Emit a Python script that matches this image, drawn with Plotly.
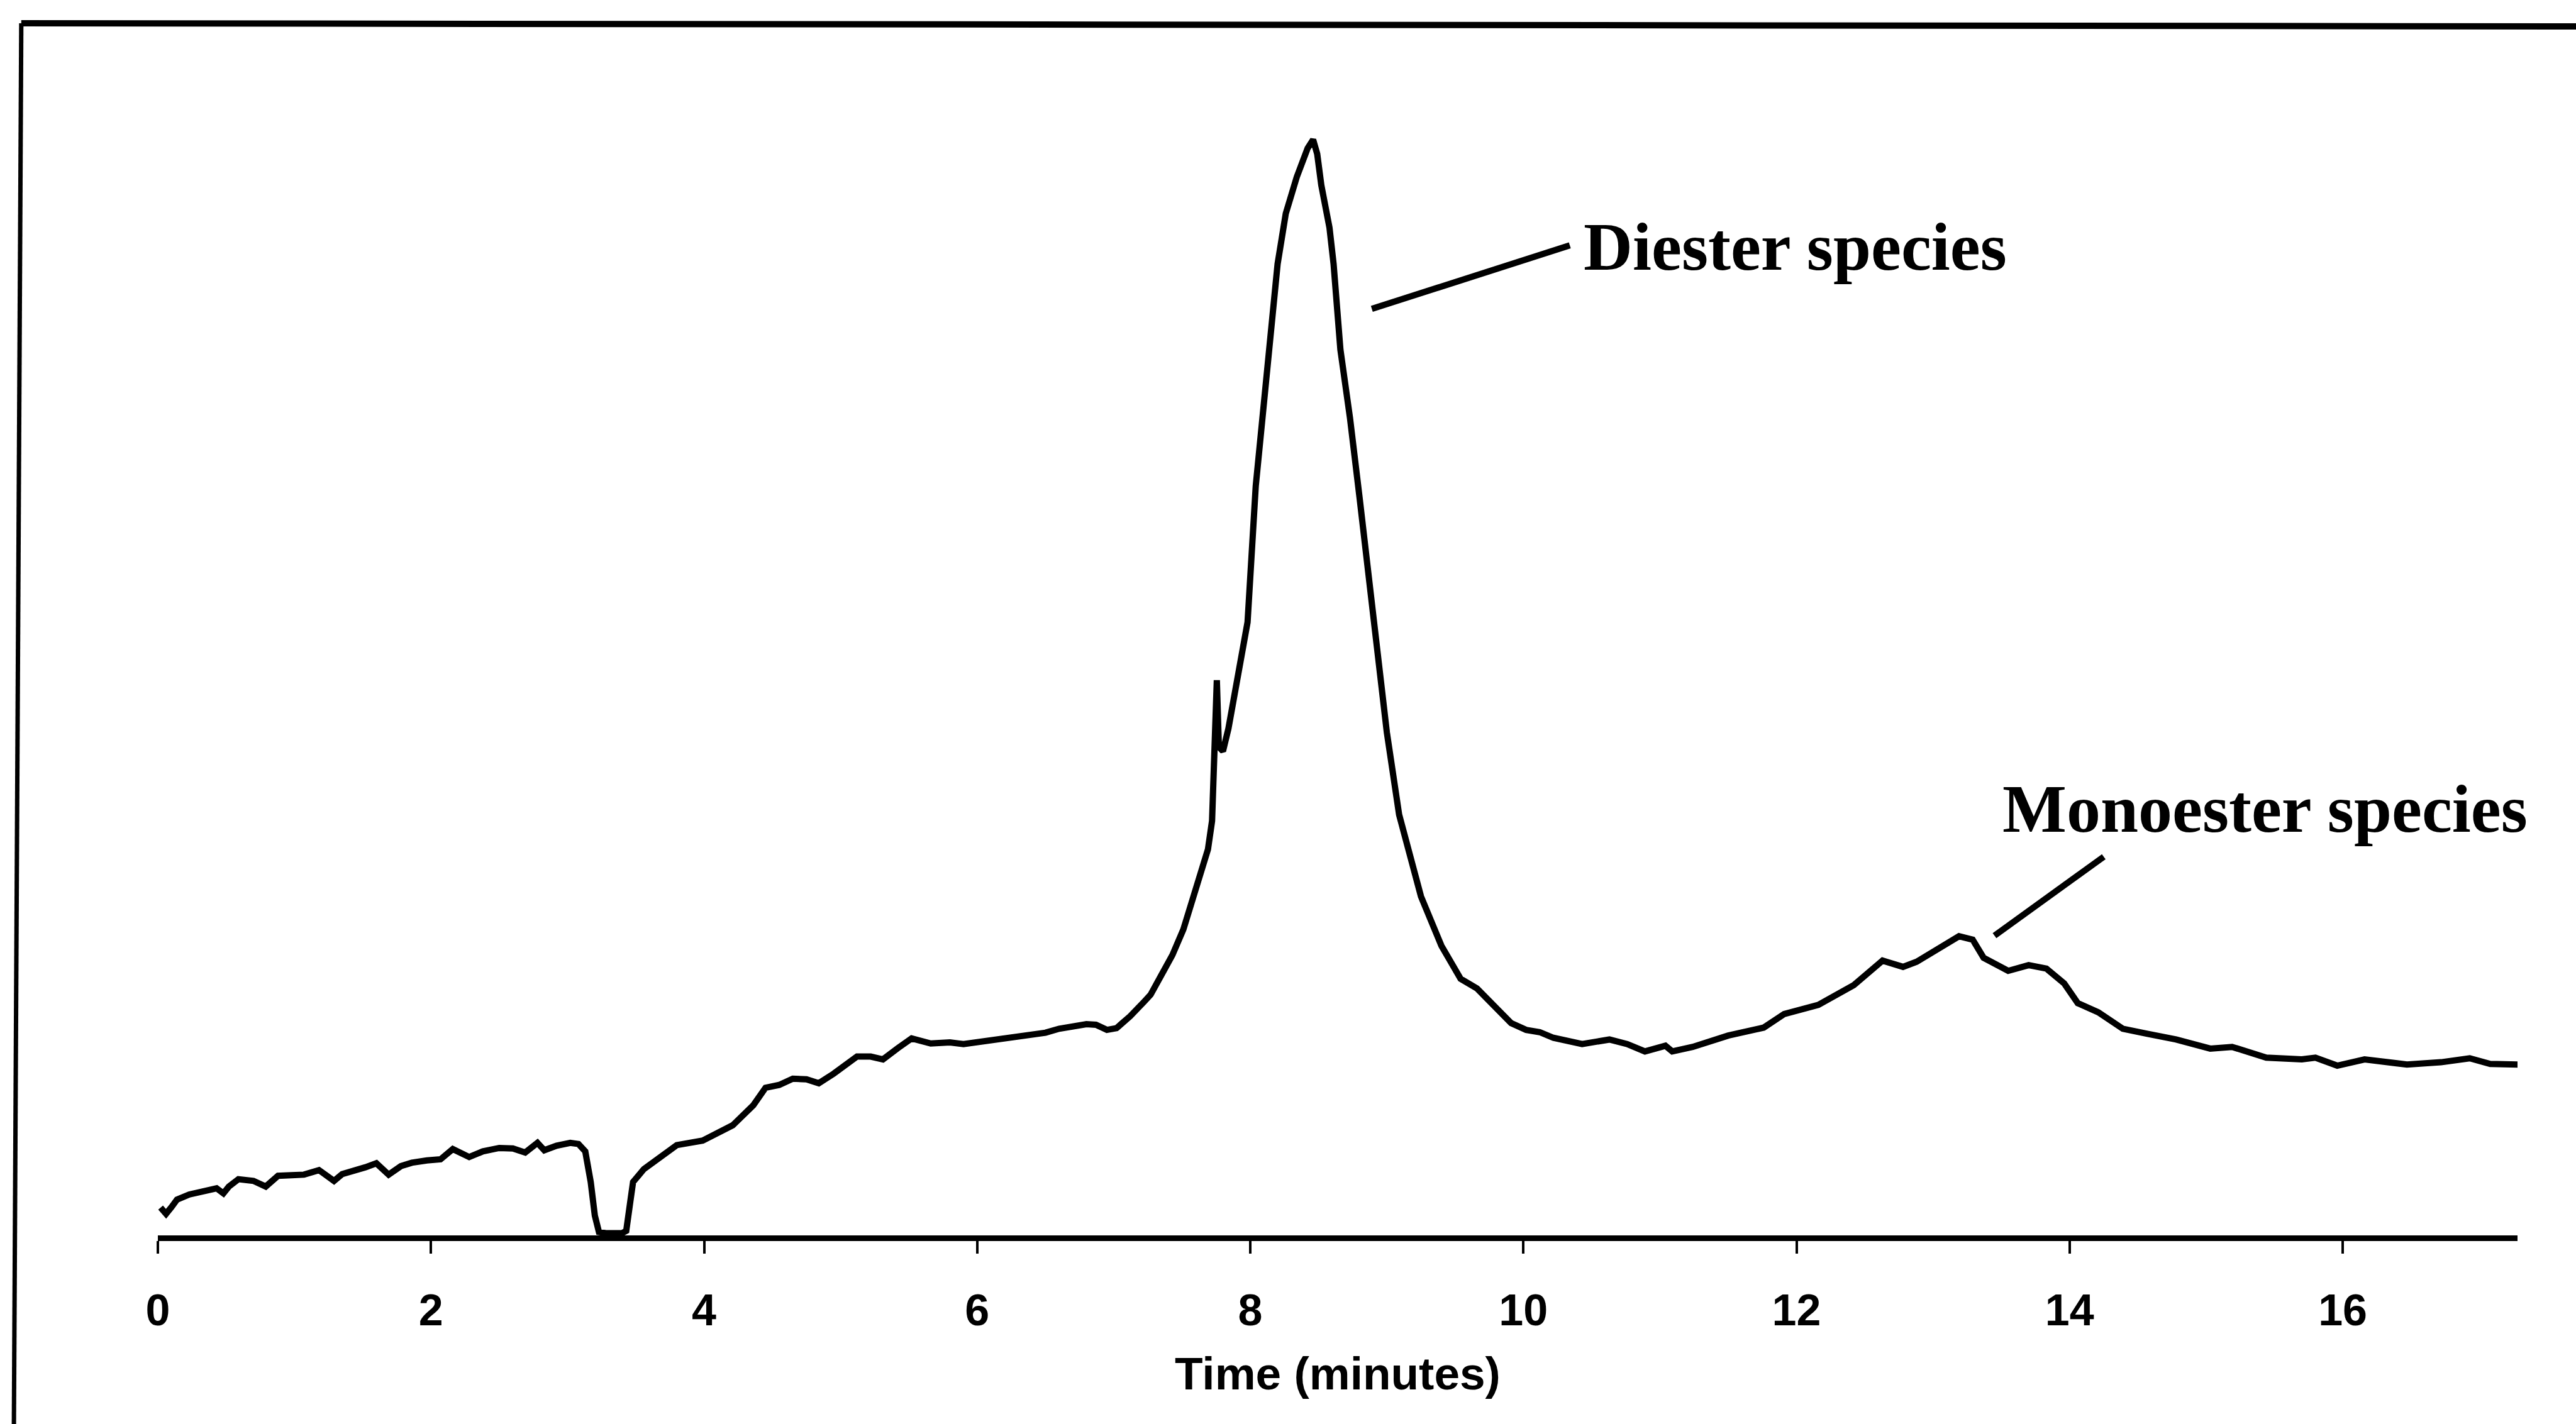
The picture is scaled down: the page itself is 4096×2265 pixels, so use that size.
import plotly.graph_objects as go

# Chromatogram: retention time (minutes) vs. detector response (arbitrary units)
time_min = [
    0.02, 0.06, 0.10, 0.14, 0.23, 0.30, 0.37, 0.43, 0.48, 0.52, 0.59, 0.70, 0.79, 0.88,
    0.98, 1.07, 1.18, 1.29, 1.35, 1.43, 1.52, 1.60, 1.69, 1.78, 1.86, 1.97, 2.07, 2.16,
    2.28, 2.38, 2.50, 2.60, 2.69, 2.78, 2.83, 2.92, 3.02, 3.08, 3.13, 3.17, 3.20, 3.23,
    3.28, 3.40, 3.43, 3.46, 3.48, 3.56, 3.67, 3.80, 3.99, 4.10, 4.21, 4.36, 4.45, 4.55,
    4.65, 4.75, 4.84, 4.95, 5.12, 5.22, 5.31, 5.42, 5.52, 5.66, 5.80, 5.90, 6.05, 6.24,
    6.40, 6.50, 6.60, 6.69, 6.80, 6.87, 6.95, 7.02, 7.12, 7.22, 7.27, 7.35, 7.43, 7.51,
    7.57, 7.64, 7.69, 7.72, 7.74, 7.755, 7.77, 7.80, 7.84, 7.88, 7.92, 7.95, 7.98, 8.04,
    8.10, 8.14, 8.20, 8.26, 8.34, 8.42, 8.46, 8.49, 8.52, 8.58, 8.61, 8.66, 8.73, 8.80,
    8.86, 8.93, 9.00, 9.09, 9.18, 9.25, 9.40, 9.54, 9.66, 9.79, 9.91, 10.02, 10.12, 10.22,
    10.43, 10.63, 10.76, 10.89, 11.04, 11.09, 11.24, 11.50, 11.76, 11.91, 12.16, 12.42,
    12.63, 12.78, 12.88, 13.19, 13.29, 13.37, 13.55, 13.70, 13.83, 13.96, 14.06, 14.21,
    14.39, 14.57, 14.78, 15.03, 15.19, 15.44, 15.70, 15.80, 15.96, 16.16, 16.47, 16.72,
    16.93, 17.08, 17.29,
]
response = [
    4.9, 3.8, 5.0, 6.3, 7.2, 7.6, 8.0, 8.3, 7.4, 8.6, 9.9, 9.6, 8.6, 10.5,
    10.6, 10.7, 11.5, 9.6, 10.8, 11.3, 12.0, 12.7, 10.7, 12.2, 12.8, 13.2, 13.4, 15.2,
    13.8, 14.8, 15.4, 15.3, 14.6, 16.3, 15.0, 15.8, 16.3, 16.1, 14.8, 9.4, 3.5, 0.6,
    0.4, 0.4, 0.8, 6.0, 9.4, 11.7, 13.6, 15.9, 16.7, 18.0, 19.4, 22.9, 26.0, 26.5,
    27.6, 27.5, 26.8, 28.5, 31.5, 31.5, 31.0, 33.0, 34.7, 33.8, 34.0, 33.7, 34.2, 34.7,
    35.2, 35.7, 36.4, 36.7, 37.2, 37.1, 36.2, 36.5, 38.6, 41.1, 42.4, 45.9, 49.4, 53.9,
    58.4, 63.9, 68.0, 73.0, 86.0, 97.8, 86.0, 85.3, 89.3, 94.7, 99.7, 104.7, 108.0, 132.0,
    147.0, 155.2, 171.1, 180.0, 186.4, 191.5, 193.0, 190.5, 185.0, 177.5, 171.1, 156.0, 144.0, 130.0,
    117.5, 103.0, 88.6, 74.1, 65.5, 59.7, 51.0, 45.2, 43.5, 40.3, 37.4, 36.2, 35.8, 34.8,
    33.7, 34.5, 33.7, 32.4, 33.4, 32.4, 33.2, 35.2, 36.6, 39.0, 40.6, 44.1,
    48.4, 47.3, 48.2, 52.7, 52.1, 48.9, 46.6, 47.6, 47.0, 44.4, 40.9, 39.3,
    36.4, 35.5, 34.5, 32.9, 33.2, 31.3, 31.0, 31.3, 29.9, 31.0, 30.1, 30.5,
    31.2, 30.2, 30.1,
]

# Peak call-outs: label text, label anchor, and leader line end points
peak_labels = ["Diester species", "Monoester species"]
label_x = [10.43, 13.50]
label_y = [174.1, 75.1]
leader_x = [[8.89, 10.34], [13.45, 14.25]]
leader_y = [[163.2, 174.4], [52.8, 66.7]]

# Axis settings
x_ticks = [0, 2, 4, 6, 8, 10, 12, 14, 16]
x_range = [0, 17.28]
y_range = [0, 210.96]
x_title = "Time (minutes)"

# Page geometry (pixels)
W, H = 4096, 2265
M_L, M_R, M_T, M_B = 250.6, 93, 60, 300
PW = W - M_L - M_R
PH = H - M_T - M_B


def to_paper(px, py):
    """Convert page pixel position to paper coordinates of the plot area."""
    return (px - M_L) / PW, (H - M_B - py) / PH


fig = go.Figure()

fig.add_trace(go.Scatter(
    x=time_min, y=response, mode="lines",
    line=dict(color="black", width=10),
    hoverinfo="skip", showlegend=False,
))

for lx, ly in zip(leader_x, leader_y):
    fig.add_trace(go.Scatter(
        x=lx, y=ly, mode="lines",
        line=dict(color="black", width=10),
        hoverinfo="skip", showlegend=False,
    ))

for text, ax_, ay_ in zip(peak_labels, label_x, label_y):
    fig.add_annotation(
        x=ax_, y=ay_, xref="x", yref="y", text=text, showarrow=False,
        xanchor="left", yanchor="middle",
        font=dict(family="Liberation Serif", size=108, color="black", weight="bold"),
    )

# Border of the figure panel (top and left edges)
tx0, ty0 = to_paper(33.4, 37)
tx1, ty1 = to_paper(W, 42)
lx0, ly0 = to_paper(33.4, 37)
lx1, ly1 = to_paper(21.7, H)
fig.add_shape(type="line", xref="paper", yref="paper", x0=tx0, y0=ty0, x1=tx1, y1=ty1,
              line=dict(color="black", width=10))
fig.add_shape(type="line", xref="paper", yref="paper", x0=lx0, y0=ly0, x1=lx1, y1=ly1,
              line=dict(color="black", width=7))

fig.update_layout(
    template="none",
    width=W, height=H, autosize=False,
    margin=dict(l=M_L, r=M_R, t=M_T, b=M_B, pad=0),
    paper_bgcolor="white", plot_bgcolor="white",
    showlegend=False,
)

fig.update_xaxes(
    range=x_range, tickvals=x_ticks, ticktext=[str(t) for t in x_ticks],
    showline=True, linecolor="black", linewidth=9,
    ticks="outside", ticklen=20, tickwidth=4, tickcolor="black",
    ticklabelstandoff=30,
    tickfont=dict(family="Liberation Sans", size=70, color="black", weight="bold"),
    showgrid=False, zeroline=False, automargin=False,
    title=dict(text=x_title, standoff=40,
               font=dict(family="Liberation Sans", size=73, color="black", weight="bold")),
)
fig.update_yaxes(range=y_range, visible=False, showgrid=False, zeroline=False, automargin=False)

fig.write_html("out.html")
